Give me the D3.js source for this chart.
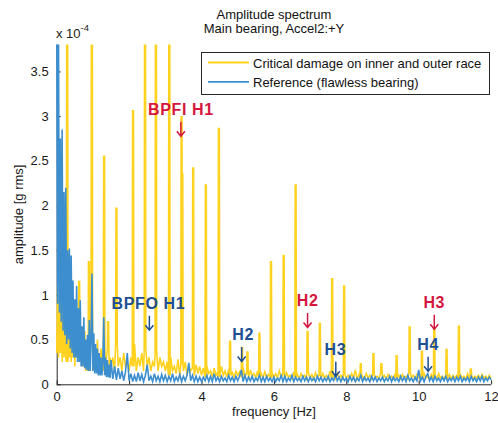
<!DOCTYPE html>
<html>
<head>
<meta charset="utf-8">
<script src="https://cdn.jsdelivr.net/npm/d3@7"></script>
<style>
  body { margin: 0; background: #fff; }
  text { font-family: "Liberation Sans", Arial, sans-serif; }
</style>
</head>
<body>
<script>
// amplitudes in units of 1e-4 g rms
// low band 0 .. 1.475 Hz sampled every 0.025 Hz, rest 1.5 .. 12 Hz every 0.05 Hz
var lowStep = 0.025, lowEnd = 1.5, gridStep = 0.05;

// reference (flawless bearing)
var refLow = [
  4.2, 0.9, 3.9, 0.8, 2.75, 0.7, 2.85, 0.6, 2.15, 0.55,
  2.2, 0.45, 1.5, 0.5, 1.52, 0.4, 1.44, 0.35, 1.16, 0.3,
  0.95, 0.3, 1.1, 0.25, 0.85, 0.25, 0.94, 0.2, 0.65, 0.2,
  0.75, 0.18, 0.5, 0.16, 0.55, 0.15, 0.72, 0.15, 0.5, 1.24,
  0.15, 0.57, 0.12, 0.45, 0.12, 0.4, 0.1, 0.35, 0.1, 0.3,
  0.1, 0.25, 0.75, 0.1, 0.3, 0.08, 0.27, 0.08, 0.22, 0.07
];
var refFloor = [
  0.27, 0.06, 0.2, 0.05, 0.18, 0.06, 0.15, 0.04, 0.14, 0.35,
  0.04, 0.12, 0.03, 0.1, 0.03, 0.13, 0.04, 0.11, 0.03, 0.1, 0.22, 0.04, 0.09, 0.03, 0.12, 0.04, 0.09, 0.03, 0.11, 0.04,
  0.1, 0.03, 0.09, 0.04, 0.12, 0.03, 0.08, 0.04, 0.11, 0.03, 0.09, 0.04, 0.1, 0.24, 0.04, 0.1, 0.03, 0.09, 0.03, 0.08,
  0.03, 0.08, 0.04, 0.1, 0.03, 0.09, 0.03, 0.12, 0.04, 0.08, 0.03, 0.09, 0.04, 0.07, 0.03, 0.1, 0.04, 0.08, 0.03, 0.09,
  0.04, 0.09, 0.16, 0.03, 0.1, 0.03, 0.08, 0.04, 0.09, 0.03, 0.07, 0.04, 0.1, 0.03, 0.08, 0.03, 0.09, 0.04, 0.07, 0.03,
  0.08, 0.03, 0.07, 0.04, 0.1, 0.03, 0.09, 0.03, 0.07, 0.04, 0.1, 0.03, 0.08, 0.04, 0.07, 0.03, 0.09, 0.04, 0.08, 0.03,
  0.08, 0.04, 0.07, 0.03, 0.09, 0.04, 0.08, 0.03, 0.07, 0.04, 0.09, 0.03, 0.07, 0.04, 0.11, 0.04, 0.08, 0.03, 0.08, 0.04,
  0.07, 0.03, 0.09, 0.04, 0.08, 0.03, 0.07, 0.04, 0.1, 0.03, 0.08, 0.04, 0.07, 0.03, 0.09, 0.04, 0.08, 0.03, 0.07, 0.04,
  0.08, 0.03, 0.07, 0.04, 0.09, 0.03, 0.08, 0.04, 0.07, 0.03, 0.09, 0.04, 0.08, 0.03, 0.1, 0.04, 0.07, 0.03, 0.08, 0.04,
  0.16, 0.04, 0.08, 0.03, 0.09, 0.12, 0.04, 0.08, 0.03, 0.09, 0.04, 0.07, 0.03, 0.08, 0.04, 0.09, 0.03, 0.07, 0.04, 0.08,
  0.03, 0.08, 0.04, 0.09, 0.03, 0.07, 0.04, 0.08, 0.03, 0.09, 0.04, 0.07, 0.03, 0.08, 0.04, 0.09, 0.03, 0.07, 0.04, 0.08,
  0.05
];

// critical damage, noise floor
var damageLow = [
  0.35, 1.1, 0.3, 1.0, 0.35, 0.9, 0.25, 1.05, 0.3, 0.85,
  0.3, 0.8, 0.25, 0.95, 0.3, 0.75, 0.25, 0.9, 0.3, 0.7,
  0.2, 0.75, 0.3, 0.65, 0.2, 0.7, 0.25, 0.6, 0.2, 0.55,
  0.2, 0.6, 0.15, 0.5, 0.2, 0.55, 0.15, 0.45, 0.2, 0.5,
  0.15, 0.45, 0.2, 0.4, 0.15, 0.5, 0.2, 0.35, 0.15, 0.4,
  0.2, 0.35, 0.15, 0.45, 0.2, 0.3, 0.15, 0.4, 0.2, 0.3
];
var damageFloor = [
  0.2, 0.3, 0.15, 0.45, 0.2, 0.3, 0.15, 0.35, 0.2, 0.25,
  0.15, 0.3, 0.2, 0.45, 0.15, 0.3, 0.2, 0.35, 0.15, 0.4, 0.2, 0.3, 0.15, 0.25, 0.2, 0.35, 0.15, 0.3, 0.2, 0.25,
  0.15, 0.25, 0.1, 0.3, 0.15, 0.2, 0.12, 0.28, 0.1, 0.22, 0.15, 0.25, 0.1, 0.2, 0.15, 0.18, 0.1, 0.22, 0.12, 0.2,
  0.1, 0.18, 0.08, 0.2, 0.12, 0.15, 0.08, 0.18, 0.1, 0.14, 0.08, 0.2, 0.1, 0.15, 0.08, 0.17, 0.1, 0.13, 0.08, 0.15,
  0.1, 0.14, 0.08, 0.18, 0.1, 0.12, 0.07, 0.16, 0.09, 0.12, 0.07, 0.15, 0.08, 0.12, 0.07, 0.14, 0.08, 0.11, 0.07, 0.13,
  0.08, 0.12, 0.07, 0.15, 0.08, 0.11, 0.06, 0.13, 0.08, 0.1, 0.06, 0.14, 0.08, 0.11, 0.06, 0.12, 0.08, 0.1, 0.06, 0.13,
  0.07, 0.11, 0.06, 0.13, 0.08, 0.1, 0.06, 0.12, 0.07, 0.1, 0.06, 0.15, 0.07, 0.1, 0.06, 0.12, 0.07, 0.1, 0.06, 0.11,
  0.07, 0.1, 0.06, 0.12, 0.07, 0.16, 0.06, 0.11, 0.07, 0.09, 0.06, 0.12, 0.07, 0.1, 0.06, 0.11, 0.07, 0.09, 0.06, 0.12,
  0.07, 0.1, 0.06, 0.11, 0.07, 0.09, 0.06, 0.12, 0.07, 0.1, 0.06, 0.11, 0.07, 0.09, 0.06, 0.13, 0.07, 0.1, 0.06, 0.11,
  0.07, 0.1, 0.06, 0.12, 0.07, 0.09, 0.06, 0.11, 0.07, 0.1, 0.06, 0.12, 0.07, 0.09, 0.06, 0.1, 0.07, 0.11, 0.06, 0.1,
  0.07, 0.1, 0.06, 0.11, 0.07, 0.09, 0.06, 0.12, 0.07, 0.1, 0.06, 0.09, 0.07, 0.1, 0.06, 0.11, 0.07, 0.09, 0.06, 0.1,
  0.07
];

// critical damage, discrete peaks
var spikeHz  = [0.29, 0.62, 0.89, 0.97, 1.31, 1.42, 1.65, 2.11, 2.44, 2.74, 3.11, 3.45, 3.47, 3.77, 4.12, 4.48,
                4.79, 5.12, 5.27, 5.60, 5.92, 6.27, 6.60, 6.93, 7.27, 7.61, 7.94, 8.40, 8.75, 8.97, 9.39, 9.75,
                10.09, 10.43, 10.77, 11.11, 11.44];
var spikeAmp = [4.5, 1.15, 1.37, 4.5, 2.55, 0.70, 1.97, 3.06, 4.5, 4.5, 4.5, 3.0, 2.36, 2.42, 2.23, 2.86,
                0.48, 0.41, 0.36, 0.57, 1.37, 1.44, 2.23, 0.59, 0.68, 1.18, 1.10, 0.23, 0.34, 0.23, 0.32, 0.64,
                0.37, 0.62, 0.39, 0.65, 0.17];

var seriesNames = ["Critical damage on inner and outer race", "Reference (flawless bearing)"];
var seriesColors = ["#ffd21f", "#3d8ecf"];

var xTicks = [0, 2, 4, 6, 8, 10, 12];
var yTicks = [0, 0.5, 1, 1.5, 2, 2.5, 3, 3.5];

// annotations: label, frequency of the arrow, amplitude at arrow tip
var annoLabels = ["BPFI H1", "BPFO H1", "H2", "H2", "H3", "H3", "H4"];
var annoHz     = [3.43, 2.56, 5.11, 6.93, 7.71, 10.43, 10.26];
var annoAmp    = [2.77, 0.60, 0.25, 0.63, 0.085, 0.61, 0.14];
var annoTextDx = [0, -1, 1.5, 0, -0.5, 0, 0];
var annoColors = ["#d5163e", "#1d4f92", "#1d4f92", "#d5163e", "#1d4f92", "#d5163e", "#1d4f92"];

var width = 498, height = 423;
var x = d3.scaleLinear().domain([0, 12]).range([56.7, 491.1]);
var y = d3.scaleLinear().domain([0, 3.8]).range([384.3, 44.6]);

var svg = d3.select("body").append("svg")
  .attr("width", width)
  .attr("height", height);

svg.append("clipPath").attr("id", "plotclip")
  .append("rect")
  .attr("x", x(0) - 2).attr("y", y(3.8))
  .attr("width", x(12) - x(0) + 4).attr("height", y(0) - y(3.8));

// axes (box off, ticks inward)
var xAxis = svg.append("g")
  .attr("transform", "translate(0," + y(0) + ")")
  .call(d3.axisBottom(x).tickValues(xTicks).tickSizeInner(-4).tickSizeOuter(0).tickPadding(7));
var yAxis = svg.append("g")
  .attr("transform", "translate(" + x(0) + ",0)")
  .call(d3.axisLeft(y).tickValues(yTicks).tickSizeInner(-4).tickSizeOuter(0).tickPadding(8)
    .tickFormat(function (d) { return d3.format("~g")(d); }));
svg.selectAll(".domain").attr("stroke", "#262626");
svg.selectAll(".tick line").attr("stroke", "#262626");
svg.selectAll(".tick text")
  .attr("fill", "#1a1a1a")
  .style("font-size", "13px")
  .style("font-family", "'Liberation Sans', Arial, sans-serif");
yAxis.select(".domain").attr("d", "M0.5," + y(0) + "V" + y(3.8));
xAxis.select(".domain").attr("d", "M" + x(0) + ",0.5H" + x(12));

// build line points from the sampled arrays
function samples(low, rest) {
  var pts = low.map(function (v, i) { return [i * lowStep, v]; });
  rest.forEach(function (v, i) { pts.push([lowEnd + i * gridStep, v]); });
  return pts;
}
var damageBase = samples(damageLow, damageFloor);
function baseAt(f) {
  return d3.least(damageBase, function (p) { return Math.abs(p[0] - f); })[1];
}
var damagePts = damageBase.filter(function (p) {
  return !spikeHz.some(function (f) { return Math.abs(f - p[0]) < 0.024; });
});
spikeHz.forEach(function (f, i) {
  var base = baseAt(f);
  damagePts.push([f - 0.022, base], [f - 0.012, spikeAmp[i]], [f + 0.012, spikeAmp[i]], [f + 0.022, base]);
});
damagePts.sort(function (a, b) { return a[0] - b[0]; });
var refPts = samples(refLow, refFloor);

var line = d3.line()
  .x(function (d) { return x(d[0]); })
  .y(function (d) { return y(d[1]); });

var plot = svg.append("g").attr("clip-path", "url(#plotclip)");
plot.append("path")
  .datum(damagePts)
  .attr("d", line)
  .attr("fill", "none")
  .attr("stroke", seriesColors[0])
  .attr("stroke-width", 1.6);
plot.append("path")
  .datum(refPts)
  .attr("d", line)
  .attr("fill", "none")
  .attr("stroke", seriesColors[1])
  .attr("stroke-width", 1.6);

// titles
svg.append("text").attr("x", 274).attr("y", 18.5)
  .attr("text-anchor", "middle").style("font-size", "13px").attr("fill", "#111")
  .text("Amplitude spectrum");
svg.append("text").attr("x", 274).attr("y", 32.5)
  .attr("text-anchor", "middle").style("font-size", "13px").attr("fill", "#111")
  .text("Main bearing, Accel2:+Y");

// exponent
var expo = svg.append("text").attr("x", 56).attr("y", 37.5)
  .style("font-size", "13px").attr("fill", "#1a1a1a");
expo.append("tspan").text("x 10");
expo.append("tspan").attr("dy", -7).style("font-size", "9.5px").text("-4");

// axis labels
svg.append("text")
  .attr("transform", "translate(23," + ((y(0) + y(3.8)) / 2) + ") rotate(-90)")
  .attr("text-anchor", "middle").style("font-size", "13px").attr("fill", "#1a1a1a")
  .text("amplitude [g rms]");
svg.append("text").attr("x", 274).attr("y", 416)
  .attr("text-anchor", "middle").style("font-size", "13px").attr("fill", "#1a1a1a")
  .text("frequency [Hz]");

// legend
var legend = svg.append("g");
legend.append("rect")
  .attr("x", 201.5).attr("y", 52.5).attr("width", 288).attr("height", 42)
  .attr("fill", "#fff").attr("stroke", "#262626").attr("stroke-width", 1);
var items = legend.selectAll("g.item")
  .data(seriesNames)
  .enter()
  .append("g")
  .attr("class", "item")
  .attr("transform", function (d, i) { return "translate(0," + (62.5 + i * 19.3) + ")"; });
items.append("line")
  .attr("x1", 208).attr("x2", 249)
  .attr("stroke", function (d, i) { return seriesColors[i]; })
  .attr("stroke-width", 1.8);
items.append("text")
  .attr("x", 253).attr("y", 5)
  .style("font-size", "13px").attr("fill", "#111")
  .text(function (d) { return d; });

// annotations
var annos = svg.selectAll("g.anno")
  .data(annoLabels)
  .enter()
  .append("g")
  .attr("class", "anno")
  .attr("transform", function (d, i) { return "translate(" + x(annoHz[i]) + "," + y(annoAmp[i]) + ")"; });
annos.append("text")
  .attr("x", function (d, i) { return annoTextDx[i]; })
  .attr("y", -21.5)
  .attr("text-anchor", "middle")
  .style("font-size", "16px")
  .style("font-weight", "bold")
  .style("letter-spacing", "0.6px")
  .attr("fill", function (d, i) { return annoColors[i]; })
  .text(function (d) { return d; });
annos.append("path")
  .attr("d", "M0,-15V-0.5M-4,-5.5L0,-0.5L4,-5.5")
  .attr("fill", "none")
  .attr("stroke", function (d, i) { return annoColors[i]; })
  .attr("stroke-width", 1.5);
</script>
</body>
</html>
